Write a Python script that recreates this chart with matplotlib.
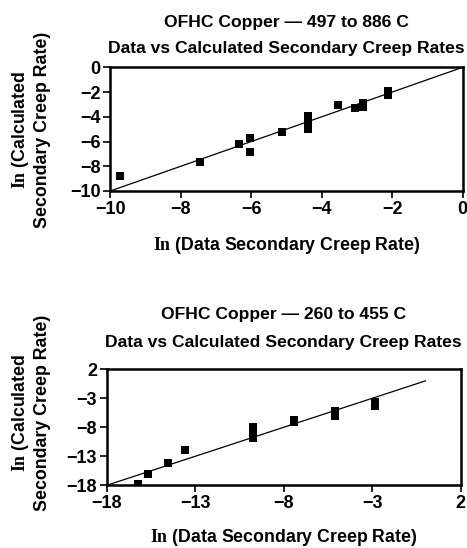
import matplotlib
matplotlib.use("Agg")
import matplotlib.pyplot as plt

# high temperature set
hi_data = [-9.73, -7.45, -6.34, -6.03, -6.03, -5.14, -4.40, -4.40, -4.40, -4.40,
           -3.53, -3.05, -2.82, -2.82, -2.13, -2.13]
hi_calc = [-8.81, -7.66, -6.20, -5.72, -6.85, -5.27, -3.96, -4.30, -4.63, -4.96,
           -3.05, -3.31, -2.89, -3.20, -1.89, -2.21]
hi_line = [-10, 0]
hi_ticks = [-10, -8, -6, -4, -2, 0]

# low temperature set
lo_data = [-16.25, -15.65, -14.54, -13.58, -9.73, -9.73, -9.73, -9.73,
           -7.40, -7.40, -5.10, -5.10, -5.10, -2.82, -2.82]
lo_calc = [-17.83, -16.00, -14.10, -11.97, -8.00, -8.60, -9.20, -9.85,
           -6.69, -7.14, -5.14, -5.57, -6.00, -3.60, -4.38]
lo_line = [-18, 0]
lo_ticks = [-18, -13, -8, -3, 2]

plt.rcParams['font.family'] = ['Liberation Sans', 'DejaVu Sans']
plt.rcParams['font.weight'] = 'bold'
plt.rcParams['mathtext.fontset'] = 'custom'
plt.rcParams['mathtext.rm'] = 'Liberation Serif'
plt.rcParams['mathtext.bf'] = 'Liberation Serif:bold'

W, H = 467, 548
fig = plt.figure(figsize=(W / 100, H / 100), dpi=100)


def px(x, y):
    return x / W, 1 - y / H


def panel(rect, xs, ys, line, ticks, title, t1, t2, xl_y, yl_y):
    l, t, r, b = rect
    ax = fig.add_axes([l / W, 1 - b / H, (r - l) / W, (b - t) / H])
    ax.plot(line, line, color='black', lw=0.9)
    ax.plot(xs, ys, 's', color='black', ms=5.2, mew=0)
    ax.set_xlim(ticks[0], ticks[-1])
    ax.set_ylim(ticks[0], ticks[-1])
    ax.set_xticks(ticks)
    ax.set_yticks(ticks)
    for s in ax.spines.values():
        s.set_linewidth(1.8)
    ax.tick_params(direction='out', length=5, width=1.2, labelsize=13, pad=2)
    for lab in ax.get_xticklabels() + ax.get_yticklabels():
        lab.set_fontweight('bold')
    cx = (l + r) / 2
    fig.text(*px(cx, t1), title[0], ha='center', va='center',
             fontsize=12.6, fontweight='bold')
    fig.text(*px(cx, t2), title[1], ha='center', va='center',
             fontsize=12.6, fontweight='bold')
    fig.text(*px(cx, xl_y), r'$\mathbf{In}$ (Data Secondary Creep Rate)',
             ha='center', va='center', fontsize=12.8, fontweight='bold')
    fig.text(*px(21, yl_y), r'$\mathbf{In}$ (Calculated', rotation=90,
             ha='center', va='center', fontsize=12.8, fontweight='bold')
    fig.text(*px(43, yl_y), 'Secondary Creep Rate)', rotation=90,
             ha='center', va='center', fontsize=12.8, fontweight='bold')
    return ax


panel((110.3, 67.3, 462.7, 191), hi_data, hi_calc, hi_line, hi_ticks,
      ['OFHC Copper \u2014 497 to 886 C', 'Data vs Calculated Secondary Creep Rates'],
      22, 48, 245, 130)
panel((106.7, 369.3, 460.7, 485.3), lo_data, lo_calc, lo_line, lo_ticks,
      ['OFHC Copper \u2014 260 to 455 C', 'Data vs Calculated Secondary Creep Rates'],
      315, 342, 538, 413)

fig.savefig('out.png', dpi=100)
